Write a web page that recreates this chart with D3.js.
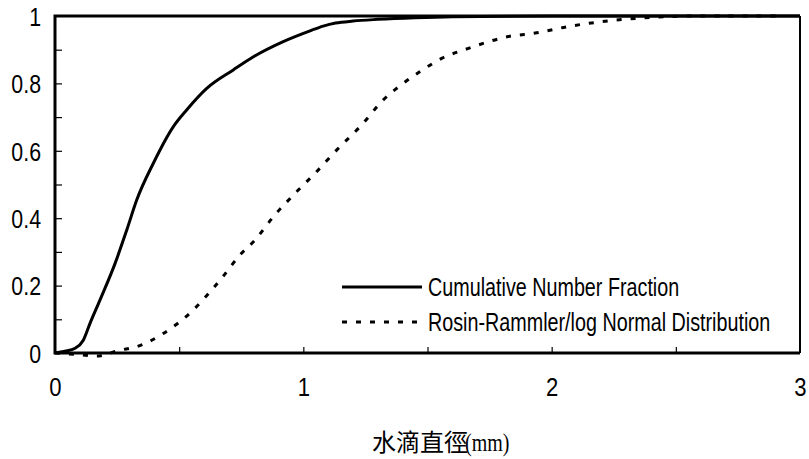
<!DOCTYPE html>
<html>
<head>
<meta charset="utf-8">
<script src="https://cdn.jsdelivr.net/npm/d3@7"></script>
<style>
  body { margin: 0; background: #fff; }
  text { font-family: "Liberation Sans", Arial, sans-serif; fill: #000; }
</style>
</head>
<body>
<svg id="canvas"></svg>
<script>
// cumulative number fraction (solid)
let cumX = [0, 0.04, 0.081, 0.114, 0.141, 0.181, 0.242, 0.289, 0.329, 0.396, 0.476, 0.530, 0.611, 0.718, 0.799, 0.919, 1.027, 1.08, 1.13, 1.2, 1.3, 1.45, 1.6, 2.0, 2.5, 3.0];
let cumY = [0, 0.005, 0.014, 0.038, 0.088, 0.157, 0.266, 0.365, 0.454, 0.563, 0.671, 0.721, 0.785, 0.840, 0.879, 0.924, 0.956, 0.970, 0.979, 0.985, 0.990, 0.995, 0.998, 1, 1, 1];

// rosin-rammler / log normal (dashed)
let rrX = [0, 0.08, 0.168, 0.255, 0.349, 0.436, 0.503, 0.550, 0.631, 0.671, 0.745, 0.805, 0.879, 0.967, 1.047, 1.134, 1.235, 1.322, 1.402, 1.470, 1.557, 1.665, 1.826, 1.940, 2.061, 2.235, 2.410, 2.557, 2.75, 2.93];
let rrY = [0, -0.004, -0.009, 0.007, 0.024, 0.058, 0.093, 0.123, 0.187, 0.222, 0.291, 0.335, 0.404, 0.474, 0.533, 0.602, 0.677, 0.751, 0.800, 0.835, 0.874, 0.904, 0.939, 0.950, 0.968, 0.986, 0.996, 1.0, 1.0, 1.0];

let xTicks = [0, 1, 2, 3];
let xMinor = [0.5, 1, 1.5, 2, 2.5];
let yTicks = [0, 0.2, 0.4, 0.6, 0.8, 1];
let yMinor = [0.1, 0.2, 0.3, 0.4, 0.5, 0.6, 0.7, 0.8, 0.9];
let legendNames = ["Cumulative Number Fraction", "Rosin-Rammler/log Normal Distribution"];
let xTitle = "水滴直徑";
let xUnit = "(mm)";

let width = 809;
let height = 459;
let padLeft = 55, padRight = 800, padTop = 16, padBottom = 353;

let canvas = d3.select("#canvas").attr("width", width).attr("height", height);

let xScale = d3.scaleLinear().domain([0, 3]).range([padLeft, padRight]);
let yScale = d3.scaleLinear().domain([0, 1]).range([padBottom, padTop]);

// the reference uses a narrow font, squeeze the glyphs horizontally
let squeeze = (sel, k) => {
  sel.each(function () {
    let w = this.getComputedTextLength();
    d3.select(this).attr("textLength", w * k).attr("lengthAdjust", "spacingAndGlyphs");
  });
};

// minor ticks pointing inward
canvas.append("g")
      .attr("transform", "translate(0," + padBottom + ")")
      .call(d3.axisTop(xScale).tickValues(xMinor).tickSize(6).tickFormat(""))
      .call(g => g.select(".domain").remove())
      .selectAll("line").attr("stroke-width", 1.2);

canvas.append("g")
      .attr("transform", "translate(" + padLeft + ",0)")
      .call(d3.axisRight(yScale).tickValues(yMinor).tickSize(7).tickFormat(""))
      .call(g => g.select(".domain").remove())
      .selectAll("line").attr("stroke-width", 1.2);

// tick labels
let xAxis = canvas.append("g")
      .attr("transform", "translate(0," + padBottom + ")")
      .call(d3.axisBottom(xScale).tickValues(xTicks).tickSize(0).tickPadding(42).tickFormat(d3.format("d")));
xAxis.select(".domain").remove();
xAxis.selectAll("text").style("font-size", "26px").attr("dy", "0.05em").call(squeeze, 0.85);

let yAxis = canvas.append("g")
      .attr("transform", "translate(" + padLeft + ",0)")
      .call(d3.axisLeft(yScale).tickValues(yTicks).tickSize(0).tickPadding(14).tickFormat(d => d));
yAxis.select(".domain").remove();
yAxis.selectAll("text").style("font-size", "26px").attr("dy", "0.36em").call(squeeze, 0.82);

// lines
let line = d3.line()
             .x(d => xScale(d[0]))
             .y(d => yScale(d[1]))
             .curve(d3.curveMonotoneX);

canvas.append("path")
      .datum(rrX.map((x, i) => [x, rrY[i]]))
      .attr("d", line)
      .attr("fill", "none")
      .attr("stroke", "#000")
      .attr("stroke-width", 3)
      .attr("stroke-dasharray", "5,9");

canvas.append("path")
      .datum(cumX.map((x, i) => [x, cumY[i]]))
      .attr("d", line)
      .attr("fill", "none")
      .attr("stroke", "#000")
      .attr("stroke-width", 3);

// frame
canvas.append("path")
      .attr("d", "M" + padRight + "," + padTop + "V" + padBottom)
      .attr("stroke", "#000").attr("stroke-width", 2).attr("fill", "none");
canvas.append("path")
      .attr("d", "M" + padRight + "," + padTop + "H" + padLeft + "V" + padBottom + "H" + padRight)
      .attr("stroke", "#000").attr("stroke-width", 3).attr("fill", "none");

// legend
let legend = canvas.append("g").attr("transform", "translate(342,287)");
legend.append("line")
      .attr("x1", 0).attr("x2", 80).attr("y1", 0).attr("y2", 0)
      .attr("stroke", "#000").attr("stroke-width", 3);
legend.append("line")
      .attr("x1", 0).attr("x2", 80).attr("y1", 35).attr("y2", 35)
      .attr("stroke", "#000").attr("stroke-width", 3)
      .attr("stroke-dasharray", "5,9");
legend.selectAll("text.leg")
      .data(legendNames)
      .enter()
      .append("text")
      .attr("class", "leg")
      .attr("transform", (d, i) => "translate(86," + (i * 35) + ") scale(0.79,1)")
      .attr("dy", "0.36em")
      .style("font-size", "25px")
      .text(d => d);

// x title
let title = canvas.append("g");
title.append("text")
     .attr("x", 372)
     .attr("y", 451)
     .style("font-family", "'Noto Sans CJK TC', sans-serif")
     .style("font-size", "24px")
     .text(xTitle);
title.append("text")
     .attr("transform", "translate(465,451) scale(0.8,1)")
     .style("font-family", "'Liberation Serif', serif")
     .style("font-size", "25px")
     .text(xUnit);
</script>
</body>
</html>
